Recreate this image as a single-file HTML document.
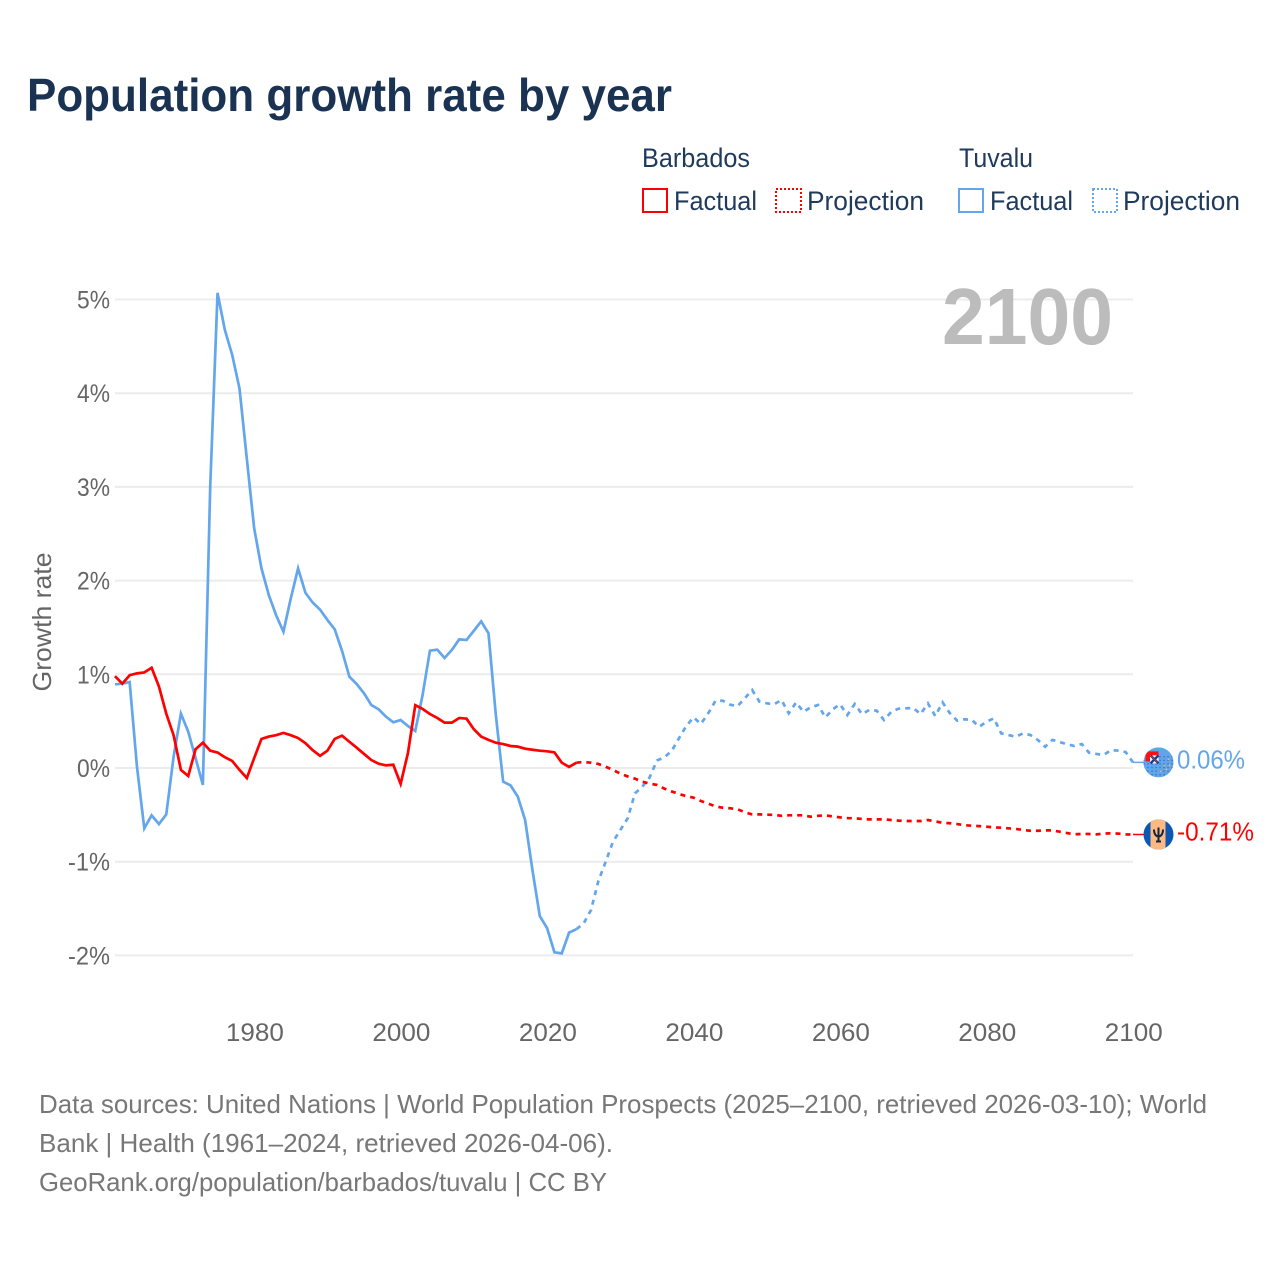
<!DOCTYPE html>
<html lang="en">
<head>
<meta charset="utf-8">
<title>Population growth rate by year</title>
<style>
html,body{margin:0;padding:0;background:#fff}
svg{display:block;font-family:"Liberation Sans",sans-serif}
</style>
</head>
<body>
<svg id="chart" width="1280" height="1280" viewBox="0 0 1280 1280" xmlns="http://www.w3.org/2000/svg">
  <defs>
    <clipPath id="flag-clip-tv"><circle cx="0" cy="0" r="15"/></clipPath>
    <clipPath id="flag-clip-bb"><circle cx="0" cy="0" r="15"/></clipPath>
    <pattern id="tv-dots" width="4" height="3.6" patternUnits="userSpaceOnUse"><rect x="1" y="1" width="1.1" height="1.1" fill="#1f5fb0"/></pattern>
  </defs>
  <rect width="1280" height="1280" fill="#fff"/>
  <text x="27" y="111" font-size="46" font-weight="700" fill="#1a3352" textLength="645" lengthAdjust="spacingAndGlyphs">Population growth rate by year</text>

  <g font-size="27" fill="#1f3a5c">
    <text x="642" y="167" textLength="108" lengthAdjust="spacingAndGlyphs">Barbados</text>
    <rect x="643" y="189" width="24" height="23" fill="none" stroke="#ff0000" stroke-width="2"/>
    <text x="674" y="210" textLength="83" lengthAdjust="spacingAndGlyphs">Factual</text>
    <rect x="776" y="189" width="25" height="23" fill="none" stroke="#ff0000" stroke-width="2" stroke-dasharray="2 2"/>
    <text x="807" y="210" textLength="117" lengthAdjust="spacingAndGlyphs">Projection</text>
    <text x="959" y="167" textLength="74" lengthAdjust="spacingAndGlyphs">Tuvalu</text>
    <rect x="959" y="189" width="24" height="23" fill="none" stroke="#63a6ec" stroke-width="2"/>
    <text x="990" y="210" textLength="83" lengthAdjust="spacingAndGlyphs">Factual</text>
    <rect x="1093" y="189" width="24" height="23" fill="none" stroke="#63a6ec" stroke-width="2" stroke-dasharray="2 2"/>
    <text x="1123" y="210" textLength="117" lengthAdjust="spacingAndGlyphs">Projection</text>
  </g>

  <g id="grid"></g>
  <g id="y-axis"></g>
  <g id="x-axis"></g>
  <text transform="translate(51,622) rotate(-90)" text-anchor="middle" font-size="26" fill="#666" textLength="139" lengthAdjust="spacingAndGlyphs">Growth rate</text>
  <text x="942" y="344" font-size="80" font-weight="700" fill="#bcbcbc" textLength="171" lengthAdjust="spacingAndGlyphs">2100</text>
  <g id="series"></g>

  <g id="flag-tuvalu">
    <g clip-path="url(#flag-clip-tv)">
      <rect x="-15" y="-15" width="30" height="30" fill="#60a5ea"/>
      <rect x="-15" y="-2" width="30" height="17" fill="url(#tv-dots)"/>
      <rect x="0" y="-8" width="15" height="8" fill="url(#tv-dots)"/>
      <path d="M-13,-1 V-11 H0 V-7 H-8.5 V-1 Z" fill="#ff1010"/>
      <rect x="-8.5" y="-7" width="8.5" height="8" fill="#fff"/>
      <path d="M-8,-7 L0,1 M-8,1 L0,-7" stroke="#1b3f8c" stroke-width="2.4"/>
      <path d="M-8,-7 L-1,0" stroke="#e33" stroke-width="0.8"/>
      <circle cx="10" cy="-3" r=".9" fill="#f2b46a"/><circle cx="6" cy="3" r=".9" fill="#f2b46a"/><circle cx="11" cy="3" r=".9" fill="#f2b46a"/><circle cx="2" cy="9" r=".9" fill="#f2b46a"/><circle cx="8" cy="7" r=".9" fill="#f2b46a"/>
    </g>
  </g>
  <g id="flag-barbados">
    <g clip-path="url(#flag-clip-bb)">
      <rect x="-15" y="-15" width="30" height="30" fill="#0a57b4"/>
      <rect x="-8" y="-15" width="15" height="30" fill="#fdb981"/>
      <path d="M-4.5,-5 C-4.5,0 -2,2 0,2 C2,2 4.5,0 4.5,-5 M0,-7 V7 M-2.5,7 H2.5" fill="none" stroke="#10253f" stroke-width="2"/>
    </g>
  </g>
  <text id="label-tuvalu" x="1177" font-size="26" fill="#63a6ec" textLength="68" lengthAdjust="spacingAndGlyphs"></text>
  <text id="label-barbados" x="1177" font-size="26" fill="#ff0000" textLength="77" lengthAdjust="spacingAndGlyphs"></text>

  <g font-size="26" fill="#777">
    <text x="39" y="1113" textLength="1168" lengthAdjust="spacingAndGlyphs">Data sources: United Nations | World Population Prospects (2025–2100, retrieved 2026-03-10); World</text>
    <text x="39" y="1152" textLength="574" lengthAdjust="spacingAndGlyphs">Bank | Health (1961–2024, retrieved 2026-04-06).</text>
    <text x="39" y="1191" textLength="568" lengthAdjust="spacingAndGlyphs">GeoRank.org/population/barbados/tuvalu | CC BY</text>
  </g>
</svg>
<script>
const factualYears = [1961,1962,1963,1964,1965,1966,1967,1968,1969,1970,1971,1972,1973,1974,1975,1976,1977,1978,1979,1980,1981,1982,1983,1984,1985,1986,1987,1988,1989,1990,1991,1992,1993,1994,1995,1996,1997,1998,1999,2000,2001,2002,2003,2004,2005,2006,2007,2008,2009,2010,2011,2012,2013,2014,2015,2016,2017,2018,2019,2020,2021,2022,2023,2024];
const projectionYears = [2024,2025,2026,2027,2028,2029,2030,2031,2032,2033,2034,2035,2036,2037,2038,2039,2040,2041,2042,2043,2044,2045,2046,2047,2048,2049,2050,2051,2052,2053,2054,2055,2056,2057,2058,2059,2060,2061,2062,2063,2064,2065,2066,2067,2068,2069,2070,2071,2072,2073,2074,2075,2076,2077,2078,2079,2080,2081,2082,2083,2084,2085,2086,2087,2088,2089,2090,2091,2092,2093,2094,2095,2096,2097,2098,2099,2100];
const barbadosFactual = [0.98,0.90,0.99,1.01,1.02,1.07,0.87,0.58,0.35,-0.02,-0.085,0.20,0.27,0.185,0.165,0.115,0.075,-0.02,-0.107,0.105,0.31,0.335,0.35,0.375,0.35,0.32,0.265,0.19,0.13,0.185,0.31,0.345,0.28,0.217,0.15,0.085,0.046,0.028,0.035,-0.17,0.16,0.67,0.63,0.576,0.534,0.484,0.484,0.534,0.526,0.414,0.335,0.30,0.27,0.256,0.235,0.228,0.206,0.195,0.185,0.178,0.167,0.057,0.011,0.057];
const barbadosProjection = [0.057,0.064,0.057,0.043,0.014,-0.021,-0.06,-0.09,-0.114,-0.146,-0.167,-0.18,-0.22,-0.25,-0.277,-0.30,-0.317,-0.352,-0.38,-0.41,-0.424,-0.43,-0.44,-0.473,-0.495,-0.495,-0.498,-0.50,-0.51,-0.505,-0.505,-0.505,-0.52,-0.51,-0.505,-0.517,-0.527,-0.534,-0.537,-0.544,-0.548,-0.548,-0.548,-0.555,-0.562,-0.566,-0.566,-0.566,-0.555,-0.57,-0.584,-0.59,-0.598,-0.61,-0.616,-0.62,-0.626,-0.634,-0.637,-0.644,-0.65,-0.662,-0.67,-0.67,-0.666,-0.666,-0.68,-0.694,-0.708,-0.704,-0.704,-0.708,-0.70,-0.697,-0.70,-0.708,-0.71];
const tuvaluFactual = [0.893,0.90,0.918,0.014,-0.644,-0.505,-0.598,-0.495,0.12,0.58,0.387,0.105,-0.18,3.0,5.07,4.675,4.41,4.05,3.30,2.56,2.13,1.846,1.63,1.455,1.81,2.13,1.87,1.765,1.69,1.58,1.48,1.25,0.975,0.896,0.797,0.672,0.626,0.548,0.488,0.512,0.448,0.395,0.78,1.252,1.263,1.174,1.26,1.373,1.366,1.465,1.565,1.437,0.566,-0.146,-0.185,-0.306,-0.555,-1.09,-1.58,-1.71,-1.967,-1.978,-1.757,-1.72];
const tuvaluProjection = [-1.72,-1.658,-1.515,-1.206,-1.0,-0.786,-0.662,-0.537,-0.27,-0.2,-0.1,0.08,0.114,0.181,0.317,0.448,0.54,0.47,0.584,0.718,0.718,0.676,0.66,0.744,0.832,0.708,0.69,0.68,0.726,0.584,0.70,0.60,0.648,0.672,0.54,0.626,0.68,0.566,0.683,0.575,0.62,0.612,0.512,0.60,0.633,0.637,0.64,0.576,0.69,0.555,0.70,0.584,0.505,0.52,0.512,0.44,0.494,0.53,0.37,0.352,0.334,0.37,0.352,0.30,0.227,0.30,0.277,0.253,0.235,0.256,0.163,0.15,0.139,0.192,0.185,0.17,0.06];
const yTickValues = [5,4,3,2,1,0,-1,-2];
const yTickLabels = ["5%","4%","3%","2%","1%","0%","-1%","-2%"];
const xTickYears = [1980,2000,2020,2040,2060,2080,2100];

const NS = "http://www.w3.org/2000/svg";
const xScale = year => 115 + (year - 1961) * (1018 / 139);
const yScale = value => 768 - value * 93.7;

function make(tag, parent, attrs, text) {
  const el = document.createElementNS(NS, tag);
  for (const k in attrs) el.setAttribute(k, attrs[k]);
  if (text !== undefined) el.textContent = text;
  parent.appendChild(el);
  return el;
}
function linePath(xs, ys) {
  return xs.map((x, i) => (i ? "L" : "M") + xScale(x).toFixed(2) + "," + yScale(ys[i]).toFixed(2)).join(" ");
}

const gridG = document.getElementById("grid");
const yAxisG = document.getElementById("y-axis");
const xAxisG = document.getElementById("x-axis");
const seriesG = document.getElementById("series");

yTickValues.forEach((v, i) => {
  const line = make("line", gridG, {x1: 115, x2: 1133, y1: yScale(v), y2: yScale(v), stroke: "#ececec", "stroke-width": 2});
  
  
  const width = yTickLabels[i].length === 3 ? 42 : 33;
  const label = make("text", yAxisG, {x: 110 - width, y: yScale(v) + 9, "font-size": 25, fill: "#666", textLength: width, lengthAdjust: "spacingAndGlyphs"}, yTickLabels[i]);
  
  
});

xTickYears.forEach(year => {
  const label = make("text", xAxisG, {x: xScale(year) + 0.8 - 29, y: 1041, "font-size": 25, fill: "#666", textLength: 58, lengthAdjust: "spacingAndGlyphs"}, String(year));
  
  
});

const blue = "#63a6ec";
const red = "#ff0000";

const tvFactual = make("path", seriesG, {d: linePath(factualYears, tuvaluFactual), fill: "none", stroke: blue, "stroke-width": 2.7, "stroke-linejoin": "miter"});



const tvProjection = make("path", seriesG, {d: linePath(projectionYears, tuvaluProjection), fill: "none", stroke: blue, "stroke-width": 2.7, "stroke-dasharray": "5 5"});



const bbFactual = make("path", seriesG, {d: linePath(factualYears, barbadosFactual), fill: "none", stroke: red, "stroke-width": 2.7, "stroke-linejoin": "miter"});



const bbProjection = make("path", seriesG, {d: linePath(projectionYears, barbadosProjection), fill: "none", stroke: red, "stroke-width": 2.7, "stroke-dasharray": "5 5"});



const lastTv = tuvaluProjection[tuvaluProjection.length - 1];
const lastBb = barbadosProjection[barbadosProjection.length - 1];
const flagX = 1158.5;

const tvLeader = make("line", seriesG, {x1: xScale(2100), x2: flagX, y1: yScale(lastTv), y2: yScale(lastTv), stroke: blue, "stroke-width": 1.5});



const bbLeader = make("line", seriesG, {x1: xScale(2100), x2: flagX, y1: yScale(lastBb), y2: yScale(lastBb), stroke: red, "stroke-width": 1.5});



document.getElementById("flag-tuvalu").setAttribute("transform", "translate(" + flagX + "," + yScale(lastTv) + ")");
document.getElementById("flag-barbados").setAttribute("transform", "translate(" + flagX + "," + yScale(lastBb) + ")");

const tvLabel = document.getElementById("label-tuvalu");
tvLabel.setAttribute("y", yScale(lastTv) + 6);
tvLabel.textContent = lastTv.toFixed(2) + "%";
const bbLabel = document.getElementById("label-barbados");
bbLabel.setAttribute("y", yScale(lastBb) + 6);
bbLabel.textContent = lastBb.toFixed(2) + "%";
</script>
</body>
</html>
